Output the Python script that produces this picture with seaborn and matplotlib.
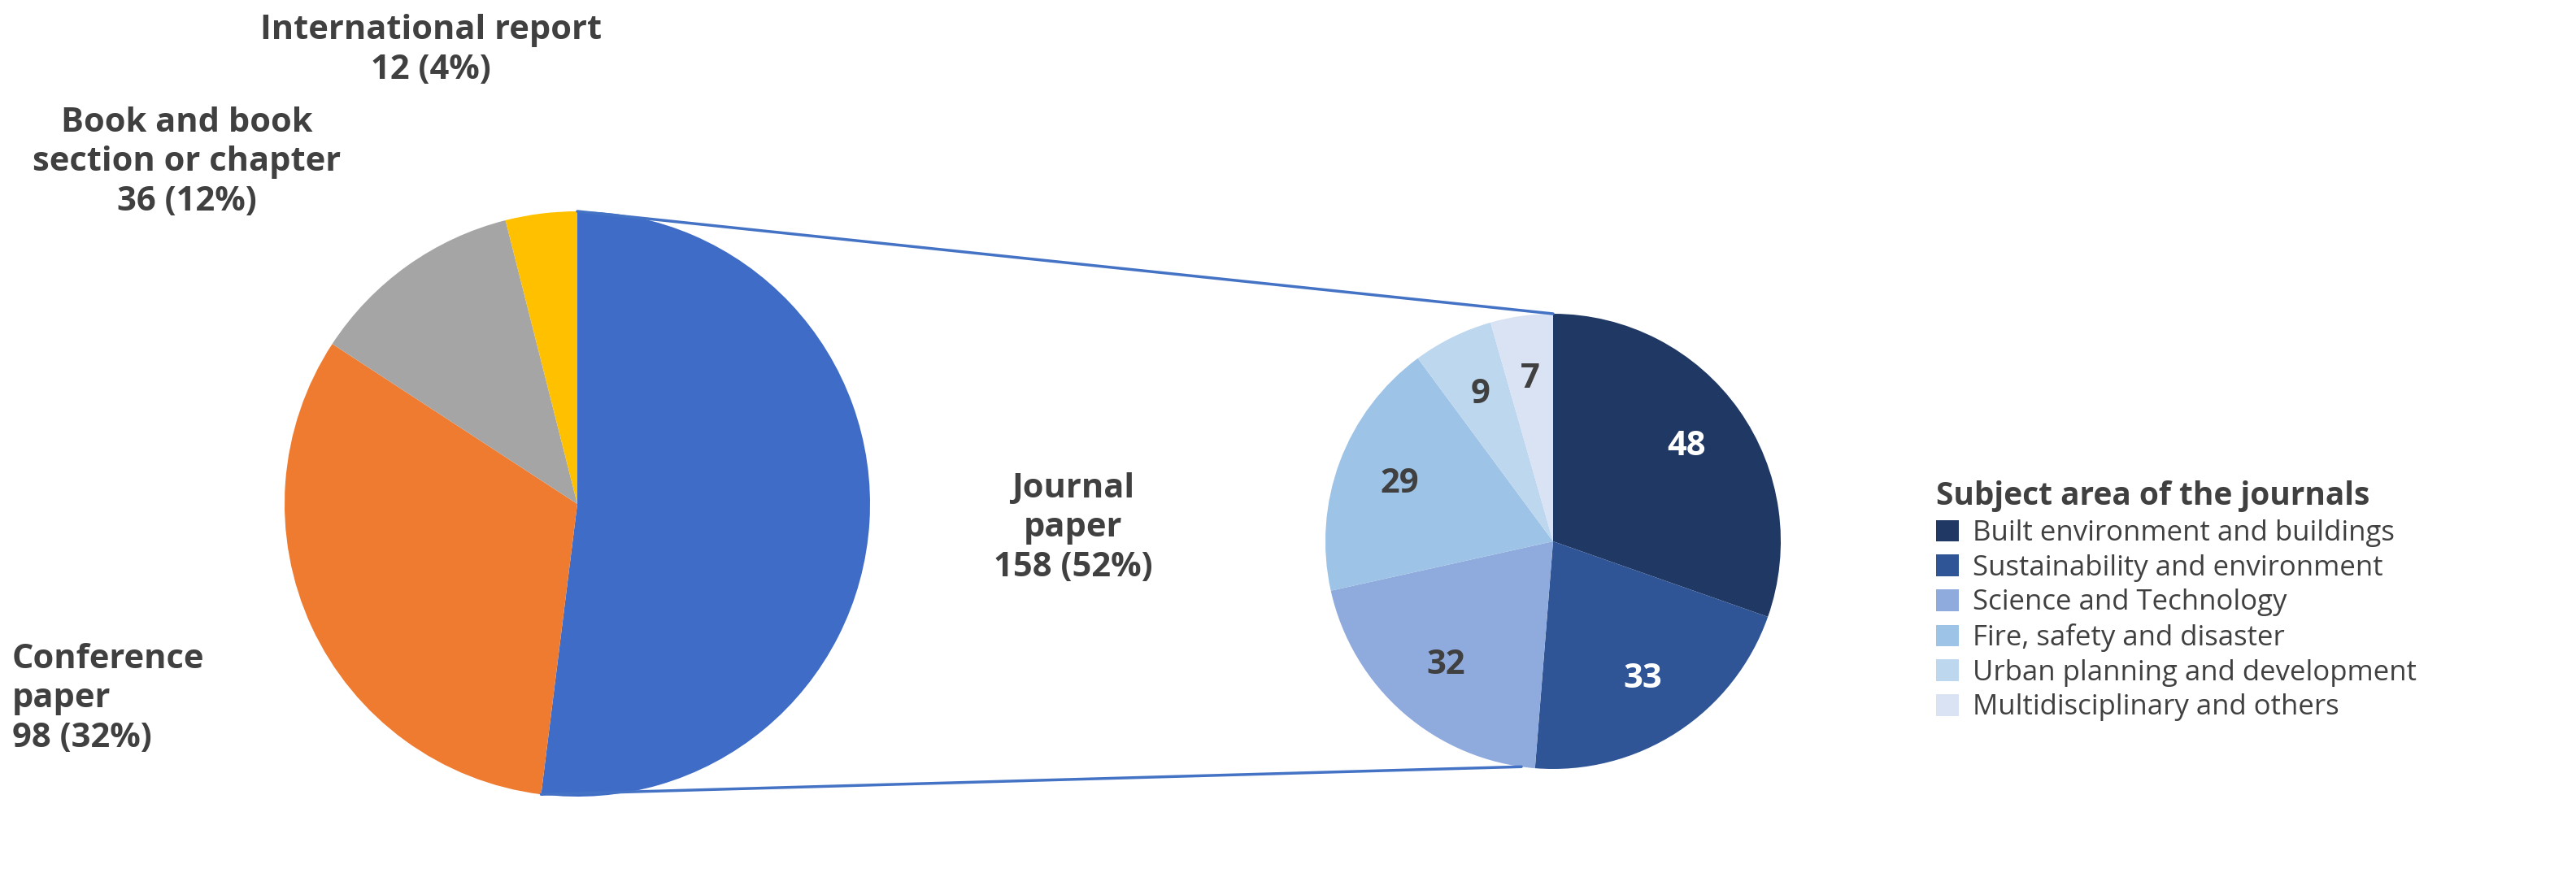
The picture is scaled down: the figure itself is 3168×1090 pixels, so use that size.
import matplotlib
matplotlib.use("Agg")
import matplotlib.pyplot as plt
import seaborn as sns
import numpy as np
from matplotlib.patches import ConnectionPatch, Patch

sns.set_theme(style="white")
plt.rcParams['font.family'] = ['Open Sans', 'DejaVu Sans']

doc_types = ["Journal\npaper", "Conference\npaper", "Book and book\nsection or chapter", "International report"]
doc_counts = [158, 98, 36, 12]
doc_colors = ["#3F6CC6", "#EE7B30", "#A5A5A5", "#FFC000"]

subjects = ["Built environment and buildings", "Sustainability and environment",
            "Science and Technology", "Fire, safety and disaster",
            "Urban planning and development", "Multidisciplinary and others"]
subject_counts = [48, 33, 32, 29, 9, 7]
subject_colors = ["#203864", "#2F5597", "#8FAADC", "#9DC3E6", "#BDD7EE", "#DAE3F3"]

TXT = "#404040"
W, H = 3168, 1090
fig = plt.figure(figsize=(W/100, H/100), dpi=100)
ax1 = fig.add_axes([260/W, 20/H, 900/W, 900/H])
ax2 = fig.add_axes([1560/W, 74/H, 700/W, 700/H])

w1, _ = ax1.pie(doc_counts, colors=doc_colors, startangle=90, counterclock=False,
                wedgeprops=dict(linewidth=0))
ax1.set_aspect("equal")

total = sum(doc_counts)
pos = [(1320, 650, "center"), (15, 860, "left"), (230, 200, "center"), (530, 62, "center")]
for (x, y, ha), lab, c in zip(pos, doc_types, doc_counts):
    fig.text(x/W, 1 - y/H, f"{lab}\n{c} ({round(100*c/total)}%)", ha=ha, va="center",
             fontsize=30, fontweight="bold", color=TXT, linespacing=1.25)

w2, _, autot = ax2.pie(subject_counts, colors=subject_colors, startangle=90, counterclock=False,
                       autopct=lambda p: f"{round(p*sum(subject_counts)/100)}", pctdistance=0.72,
                       wedgeprops=dict(linewidth=0))
ax2.set_aspect("equal")
for i, t in enumerate(autot):
    t.set_fontsize(30); t.set_fontweight("bold")
    t.set_color("white" if i < 2 else TXT)

ang_end = 90 - 360*doc_counts[0]/total
p_bot = (np.cos(np.radians(ang_end)), np.sin(np.radians(ang_end)))
for pa, pb in [((0, 1), (0, 1)), (p_bot, (np.cos(np.radians(-98)), np.sin(np.radians(-98))))]:
    con = ConnectionPatch(xyA=pa, coordsA=ax1.transData, xyB=pb, coordsB=ax2.transData,
                          color="#4472C4", linewidth=2.5)
    fig.add_artist(con)

handles = [Patch(facecolor=c, edgecolor="none") for c in subject_colors]
leg = fig.legend(handles, subjects, loc="upper left", bbox_to_anchor=(2350/W, 1 - 560/H),
                 frameon=False, fontsize=25, title="Subject area of the journals",
                 title_fontproperties=dict(size=28, weight="bold"), handlelength=0.8,
                 handleheight=0.8, handletextpad=0.5, labelspacing=0.25, alignment="left")
leg.get_title().set_color(TXT)
for t in leg.get_texts():
    t.set_color(TXT)

fig.savefig("out.png", dpi=100)
